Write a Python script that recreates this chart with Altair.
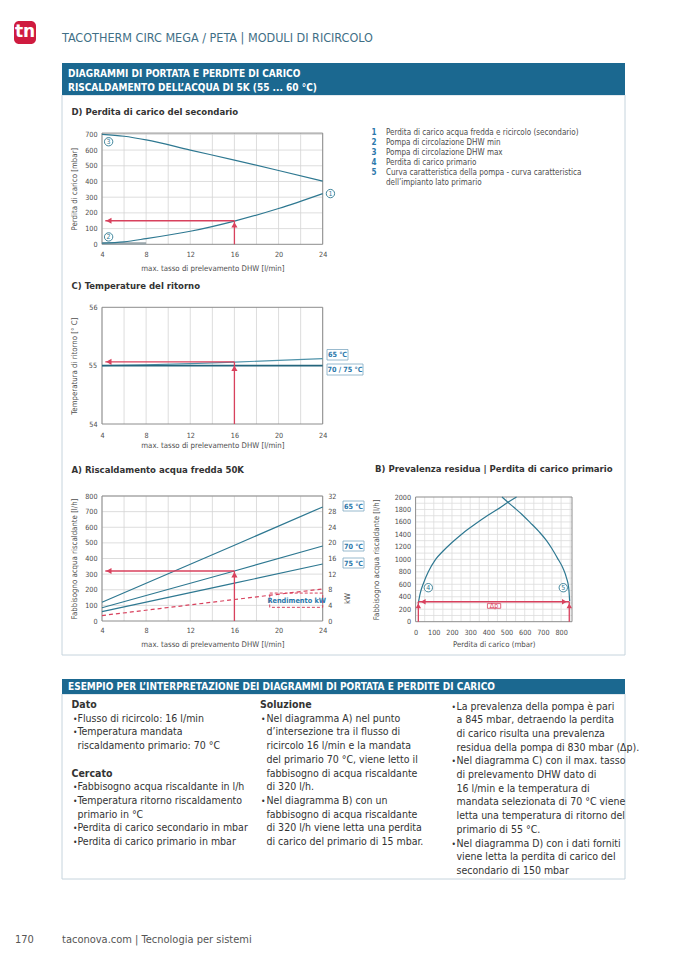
import altair as alt
import pandas as pd

W, H = 662, 943
FONT = "Liberation Sans Narrow, DejaVu Sans Condensed, sans-serif"
TEAL = "#2e7891"
TEAL_L = "#4f93aa"
TEAL_D = "#24657c"
RED = "#d8415d"
BAR = "#1b6890"
LBL = "#2b78ab"
TXT = "#4d4d4d"
DARK = "#333333"
GRID = "#d4d4d4"
FRAME = "#8c8c8c"
BOX = "#c6d4dd"


def P(v):
    return v - 8


# ------------------------------------------------------------------ texts
page_title = "TACOTHERM CIRC MEGA / PETA  |  MODULI DI RICIRCOLO"
logo_text = "tn"
bar_lines = ["DIAGRAMMI DI PORTATA E PERDITE DI CARICO",
             "RISCALDAMENTO DELL’ACQUA DI 5K (55 ... 60 °C)"]
legend_nums = ["1", "2", "3", "4", "5", ""]
legend_texts = ["Perdita di carico acqua fredda e ricircolo (secondario)",
                "Pompa di circolazione DHW min",
                "Pompa di circolazione DHW max",
                "Perdita di carico primario",
                "Curva caratteristica della pompa - curva caratteristica",
                "dell’impianto lato primario"]
title_D = "D) Perdita di carico del secondario"
title_C = "C) Temperature del ritorno"
title_A = "A) Riscaldamento acqua fredda 50K"
title_B = "B) Prevalenza residua  |  Perdita di carico primario"
xtitle_flow = "max. tasso di prelevamento DHW [l/min]"
ytitle_D = "Perdita di carico [mbar]"
ytitle_C = "Temperatura di ritorno [° C]"
ytitle_A = "Fabbisogno acqua riscaldante [l/h]"
ytitle_kw = "kW"
xtitle_B = "Perdita di carico (mbar)"
ytitle_B = "Fabbisogno acqua riscaldante [l/h]"
lab_C = ["65 °C", "70 / 75 °C"]
lab_A = ["65 °C", "70 °C", "75 °C"]
lab_kw = "Rendimento kW"
lab_dp = "Δp"
example_bar = "ESEMPIO PER L’INTERPRETAZIONE DEI DIAGRAMMI DI PORTATA E PERDITE DI CARICO"
col1_text = ["Dato", "Flusso di ricircolo: 16 l/min", "Temperatura mandata",
             "riscaldamento primario: 70 °C", "", "Cercato",
             "Fabbisogno acqua riscaldante in l/h", "Temperatura ritorno riscaldamento",
             "primario in °C", "Perdita di carico secondario in mbar",
             "Perdita di carico primario in mbar"]
col1_kind = ["h", "b", "b", "c", "e", "h", "b", "b", "c", "b", "b"]
col2_text = ["Soluzione", "Nel diagramma A) nel punto", "d’intersezione tra il flusso di",
             "ricircolo 16 l/min e la mandata", "del primario 70 °C, viene letto il",
             "fabbisogno di acqua riscaldante", "di 320 l/h.", "Nel diagramma B) con un",
             "fabbisogno di acqua riscaldante", "di 320 l/h viene letta una perdita",
             "di carico del primario di 15 mbar."]
col2_kind = ["h", "b", "c", "c", "c", "c", "c", "b", "c", "c", "c"]
col3_text = ["La prevalenza della pompa è pari", "a 845 mbar, detraendo la perdita",
             "di carico risulta una prevalenza", "residua della pompa di 830 mbar (Δp).",
             "Nel diagramma C) con il max. tasso", "di prelevamento DHW dato di",
             "16 l/min e la temperatura di", "mandata selezionata di 70 °C viene",
             "letta una temperatura di ritorno del", "primario di 55 °C.",
             "Nel diagramma D) con i dati forniti", "viene letta la perdita di carico del",
             "secondario di 150 mbar"]
col3_kind = ["b", "c", "c", "c", "b", "c", "c", "c", "c", "c", "b", "c", "c"]
footer_page = "170"
footer_text = "taconova.com  |  Tecnologia per sistemi"

# ------------------------------------------------------------------ data
flow_ticks = [4, 8, 12, 16, 20, 24]
flow_grid = [4, 6, 8, 10, 12, 14, 16, 18, 20, 22, 24]

# D) secondary pressure loss
d_y_ticks = [0, 100, 200, 300, 400, 500, 600, 700]
d_y_grid = [100, 200, 300, 400, 500, 600, 700]
d_flow = [4, 6, 8, 12, 16, 20, 24]
d_pump_max = [700, 688, 665, 600, 536, 470, 402]
d_loss = [8, 16, 36, 83, 148, 228, 323]
d_pump_min_flow = [4, 8]
d_pump_min = [5, 5]
d_read_flow, d_read_val = 16, 150

# C) return temperature
c_y_ticks = [54, 56]
c_mid_tick = 55
c_flow = [4, 8, 12, 16, 20, 24]
c_65 = [55.0, 55.015, 55.035, 55.06, 55.09, 55.12]
c_70_75 = [55.0, 55.0, 55.0, 55.0, 55.0, 55.0]
c_read_flow, c_read_val = 16, 55.065

# A) heating water demand
a_y_ticks = [0, 100, 200, 300, 400, 500, 600, 700, 800]
a_kw_ticks = [0, 4, 8, 12, 16, 20, 24, 28, 32]
a_flow = [4, 16, 24]
a_65 = [120, 485, 730]
a_70 = [85, 320, 480]
a_75 = [60, 242, 365]
a_kw = [1.4, 5.5, 8.2]
a_read_flow, a_read_val = 16, 320

# B) residual head / primary loss
b_x_ticks = [0, 100, 200, 300, 400, 500, 600, 700, 800]
b_y_ticks = [0, 200, 400, 600, 800, 1000, 1200, 1400, 1600, 1800, 2000]
b_x_grid = list(range(50, 860, 50))
b_y_grid = list(range(100, 2000, 100))
b4_dp = [15, 25, 45, 70, 110, 150, 200, 260, 330, 400, 470, 500, 555]
b4_q = [300, 450, 630, 800, 1000, 1130, 1270, 1420, 1570, 1710, 1840, 1900, 2000]
b5_dp = [475, 500, 540, 585, 630, 680, 720, 750, 780, 810, 830, 842, 847]
b5_q = [2000, 1935, 1835, 1720, 1590, 1440, 1300, 1170, 1020, 860, 700, 540, 330]
b_read_q = 320
b_dp_lo, b_dp_hi = 15, 845


# ------------------------------------------------------------------ helpers
def lin(domain, r0, r1):
    return alt.Scale(domain=domain, range=[P(r0), P(r1)], nice=False, zero=False)


def ax_common(fmt=None):
    d = dict(grid=False, ticks=False, domain=False, zindex=1, labelOverlap=False,
             tickCount=30,
             labelFont=FONT, labelFontSize=7.2, labelColor=TXT,
             titleFont=FONT, titleFontSize=7.8, titleFontWeight="normal", titleColor=TXT,
             titleBaseline="middle", titleAlign="center", format=fmt or "d")
    return d


def x_axis(values, title, px_l, px_r, px_b, label_pad, title_dy, fmt=None):
    return alt.Axis(orient="bottom", offset=P(px_b) - H, values=values, title=title,
                    labelFlush=False, labelPadding=label_pad,
                    titleX=(P(px_l) + P(px_r)) / 2, titleY=title_dy, **ax_common(fmt))


def y_axis(values, title, px_x, title_dx, title_y, orient="left", label_pad=5, fmt=None):
    off = -P(px_x) if orient == "left" else P(px_x) - W
    return alt.Axis(orient=orient, offset=off, values=values, title=title,
                    labelPadding=label_pad, titleX=title_dx, titleY=P(title_y),
                    titleAngle=270, **ax_common(fmt))


class Panel:
    def __init__(self, sx, sy, ax, ay):
        self.sx, self.sy, self.ax, self.ay = sx, sy, ax, ay
        self.layers = []

    def X(self):
        return alt.X("x:Q", scale=self.sx, axis=self.ax)

    def Y(self):
        return alt.Y("y:Q", scale=self.sy, axis=self.ay)

    def enc(self, df):
        e = {}
        if "x" in df:
            e["x"] = self.X()
        if "x2" in df:
            e["x2"] = "x2:Q"
        if "y" in df:
            e["y"] = self.Y()
        if "y2" in df:
            e["y2"] = "y2:Q"
        return e

    def grid_frame(self, gx, gy, x0, x1, y0, y1, grid_color=GRID):
        if gx:
            v = pd.DataFrame({"x": gx, "y": [y0] * len(gx), "y2": [y1] * len(gx)})
            self.layers.append(alt.Chart(v).mark_rule(color=grid_color, strokeWidth=0.8)
                               .encode(**self.enc(v)))
        if gy:
            h = pd.DataFrame({"y": gy, "x": [x0] * len(gy), "x2": [x1] * len(gy)})
            self.layers.append(alt.Chart(h).mark_rule(color=grid_color, strokeWidth=0.8)
                               .encode(**self.enc(h)))
        f = pd.DataFrame({"x": [x0], "x2": [x1], "y": [y0], "y2": [y1]})
        self.layers.append(alt.Chart(f).mark_rect(fillOpacity=0, stroke=FRAME, strokeWidth=1)
                           .encode(**self.enc(f)))

    def line(self, xs, ys, color=TEAL, width=1.2, dash=None, interp="monotone"):
        df = pd.DataFrame({"x": xs, "y": ys})
        mk = dict(color=color, strokeWidth=width, interpolate=interp)
        if dash:
            mk["strokeDash"] = dash
        self.layers.append(alt.Chart(df).mark_line(**mk).encode(x=self.X(), y=self.Y()))

    def rule(self, df, color=RED, width=1.3, dash=None):
        mk = dict(color=color, strokeWidth=width)
        if dash:
            mk["strokeDash"] = dash
        self.layers.append(alt.Chart(pd.DataFrame(df)).mark_rule(**mk)
                           .encode(**self.enc(pd.DataFrame(df))))

    def head(self, x, y, shape, size=38, color=RED):
        df = pd.DataFrame({"x": [x], "y": [y]})
        self.layers.append(alt.Chart(df).mark_point(shape=shape, filled=True, size=size,
                                                    color=color, opacity=1)
                           .encode(x=self.X(), y=self.Y()))

    def circ(self, x, y, label, size=70):
        df = pd.DataFrame({"x": [x], "y": [y], "t": [label]})
        self.layers.append(alt.Chart(df).mark_point(shape="circle", filled=True, size=size,
                                                    fill="white", stroke=TEAL, strokeWidth=0.9,
                                                    opacity=1)
                           .encode(x=self.X(), y=self.Y()))
        self.layers.append(alt.Chart(df).mark_text(font=FONT, fontSize=7, color=TEAL,
                                                   baseline="middle", align="center", dy=0.5)
                           .encode(x=self.X(), y=self.Y(), text="t:N"))

    def box(self, x0, x1, y0, y1, stroke=RED, dash=None, fill="white", fill_op=1.0, width=0.9):
        df = pd.DataFrame({"x": [x0], "x2": [x1], "y": [y0], "y2": [y1]})
        mk = dict(fill=fill, fillOpacity=fill_op, stroke=stroke, strokeWidth=width)
        if dash:
            mk["strokeDash"] = dash
        self.layers.append(alt.Chart(df).mark_rect(**mk).encode(**self.enc(df)))

    def text(self, x, y, label, size=8, color=LBL, weight="bold", align="center", dx=0):
        df = pd.DataFrame({"x": [x], "y": [y], "t": [label]})
        self.layers.append(alt.Chart(df).mark_text(font=FONT, fontSize=size, color=color,
                                                   fontWeight=weight, baseline="middle",
                                                   align=align, dx=dx)
                           .encode(x=self.X(), y=self.Y(), text="t:N"))

    def chart(self):
        return alt.layer(*self.layers)


ONE = pd.DataFrame({"k": [0]})


def px_text(label, x, y, size=8, color=TXT, weight="normal", align="left", font=FONT):
    return (alt.Chart(pd.DataFrame({"t": [label]}))
            .mark_text(font=font, fontSize=size, color=color, fontWeight=weight,
                       align=align, baseline="middle")
            .encode(x=alt.value(P(x)), y=alt.value(P(y)), text="t:N"))


def px_rect(x0, x1, y0, y1, fill="white", stroke=None, width=1, radius=0, fill_op=1.0):
    mk = dict(fill=fill, fillOpacity=fill_op, cornerRadius=radius)
    if stroke:
        mk["stroke"] = stroke
        mk["strokeWidth"] = width
    return (alt.Chart(ONE).mark_rect(**mk)
            .encode(x=alt.value(P(x0)), x2=alt.value(P(x1)),
                    y=alt.value(P(y0)), y2=alt.value(P(y1))))


def label_box(label, x0, x1, y0, y1):
    return [px_rect(x0, x1, y0, y1, fill="white", stroke="#7fa8c2", width=0.8),
            px_text(label, (x0 + x1) / 2, (y0 + y1) / 2 + 0.5, size=7.2, color=LBL,
                    weight="bold", align="center")]


def text_block(lines, kinds, x_head, x_bullet, x_text, y0, lh, size=10.5):
    df = pd.DataFrame({"t": lines, "k": kinds, "r": list(range(len(lines)))})
    base = alt.Chart(df).transform_calculate(py=f"{P(y0)} + datum.r * {lh}")
    yy = alt.Y("py:Q", scale=None, axis=None)
    heads = (base.transform_filter("datum.k == 'h'")
             .mark_text(font=FONT, fontSize=size, fontWeight="bold", color=DARK,
                        align="left", baseline="middle")
             .encode(x=alt.value(P(x_head)), y=yy, text="t:N"))
    body = (base.transform_filter("datum.k == 'b' || datum.k == 'c'")
            .mark_text(font=FONT, fontSize=size, color=DARK, align="left", baseline="middle")
            .encode(x=alt.value(P(x_text)), y=yy, text="t:N"))
    bullets = (base.transform_filter("datum.k == 'b'")
               .mark_text(font=FONT, fontSize=size * 0.8, color=DARK, align="left",
                          baseline="middle")
               .encode(x=alt.value(P(x_bullet)), y=yy, text=alt.value("•")))
    return [heads, body, bullets]


# ------------------------------------------------------------------ geometry (page px)
FX = (102, 322.7)
D_Y = (244.3, 133.1)
C_Y = (424, 307.3)
A_Y = (621, 496)
B_X = (415.6, 572)
B_Y = (621.7, 497)

layers = []

# page furniture
layers.append(px_rect(62, 625, 95, 655, fill="white", fill_op=0, stroke=BOX, width=1))
layers.append(px_rect(62, 625, 694, 879, fill="white", fill_op=0, stroke=BOX, width=1))
layers.append(px_rect(14, 36, 21, 44, fill="#cf1b3f", radius=5))
layers.append(px_text(logo_text, 25, 31.5, size=17, color="white", weight="bold",
                      align="center", font="DejaVu Sans"))
layers.append(px_text(page_title, 62, 38, size=12.5, color="#3f6f86"))
layers.append(px_rect(62, 625, 63, 95, fill=BAR))
layers.append(px_text(bar_lines[0], 68, 73.5, size=10, color="white", weight="bold"))
layers.append(px_text(bar_lines[1], 68, 87.5, size=10, color="white", weight="bold"))
layers.append(px_rect(62, 625, 679, 694, fill=BAR))
layers.append(px_text(example_bar, 68, 687, size=10, color="white", weight="bold"))
layers.append(px_text(footer_page, 15, 940, size=11, color="#555"))
layers.append(px_text(footer_text, 62, 940, size=11, color="#555"))

# chart titles
layers.append(px_text(title_D, 71.5, 111.5, size=9.5, color=DARK, weight="bold"))
layers.append(px_text(title_C, 71.5, 286, size=9.5, color=DARK, weight="bold"))
layers.append(px_text(title_A, 71.5, 469.5, size=9.5, color=DARK, weight="bold"))
layers.append(px_text(title_B, 375, 469, size=9.5, color=DARK, weight="bold"))

# legend of D
leg = pd.DataFrame({"n": legend_nums, "t": legend_texts, "r": list(range(len(legend_nums)))})
leg_base = alt.Chart(leg).transform_calculate(py=f"{P(133.3)} + datum.r * 9.9")
leg_y = alt.Y("py:Q", scale=None, axis=None)
layers.append(leg_base.mark_text(font=FONT, fontSize=8, color=LBL, fontWeight="bold",
                                 align="center", baseline="middle")
              .encode(x=alt.value(P(374)), y=leg_y, text="n:N"))
layers.append(leg_base.mark_text(font=FONT, fontSize=8, color=TXT, align="left",
                                 baseline="middle")
              .encode(x=alt.value(P(386)), y=leg_y, text="t:N"))

# ---- D
pD = Panel(lin([4, 24], *FX), lin([0, 708], *D_Y),
           x_axis(flow_ticks, xtitle_flow, *FX, D_Y[0], 6, 24),
           y_axis(d_y_ticks, ytitle_D, FX[0], -28, (D_Y[0] + D_Y[1]) / 2))
pD.grid_frame(flow_grid, d_y_grid, 4, 24, 0, 708)
pD.line(d_pump_min_flow, d_pump_min, color="#9aa6ab", width=2.5, interp="linear")
pD.line(d_flow, d_pump_max)
pD.line(d_flow, d_loss)
pD.rule({"x": [d_read_flow], "y": [0], "y2": [d_read_val]})
pD.rule({"y": [d_read_val], "x": [4.3], "x2": [d_read_flow]})
pD.head(d_read_flow, 124, "triangle-up")
pD.head(4.62, d_read_val, "triangle-left")
pD.circ(4.6, 653, "3")
pD.circ(4.6, 47, "2")
pD.circ(24.7, 323, "1")
layers.append(pD.chart())

# ---- C
pC = Panel(lin([4, 24], *FX), lin([54, 56], *C_Y),
           x_axis(flow_ticks, xtitle_flow, *FX, C_Y[0], 7, 21),
           y_axis(c_y_ticks, ytitle_C, FX[0], -28, (C_Y[0] + C_Y[1]) / 2))
pC.grid_frame(flow_grid, [], 4, 24, 54, 56)
pC.line(c_flow, c_65, color=TEAL_L, width=1.1, interp="linear")
pC.line(c_flow, c_70_75, color=TEAL_D, width=1.6, interp="linear")
pC.rule({"x": [c_read_flow], "y": [54], "y2": [c_read_val]})
pC.rule({"y": [c_read_val], "x": [4.3], "x2": [c_read_flow]})
pC.head(c_read_flow, 54.955, "triangle-up")
pC.head(4.62, c_read_val, "triangle-left")
pC.text(4, c_mid_tick, str(c_mid_tick), size=7.2, color=TXT, weight="normal",
        align="right", dx=-5)
layers.append(pC.chart())
layers += label_box(lab_C[0], 327, 348, 349.5, 360)
layers += label_box(lab_C[1], 327, 363, 364, 375)

# ---- A
pA = Panel(lin([4, 24], *FX), lin([0, 800], *A_Y),
           x_axis(flow_ticks, xtitle_flow, *FX, A_Y[0], 5, 23.3),
           y_axis(a_y_ticks, ytitle_A, FX[0], -28, (A_Y[0] + A_Y[1]) / 2))
pA.grid_frame(flow_grid, a_y_ticks[1:], 4, 24, 0, 800)
pA.line(a_flow, a_65, interp="linear")
pA.line(a_flow, a_70, interp="linear")
pA.line(a_flow, a_75, interp="linear")
pA.rule({"x": [a_read_flow], "y": [0], "y2": [a_read_val]})
pA.rule({"y": [a_read_val], "x": [4.3], "x2": [a_read_flow]})
pA.head(a_read_flow, 296, "triangle-up")
pA.head(4.62, a_read_val, "triangle-left")
layers.append(pA.chart())

pK = Panel(lin([4, 24], *FX), lin([0, 32], *A_Y), None,
           y_axis(a_kw_ticks, ytitle_kw, FX[1], 25, 598, orient="right", label_pad=5))
pK.box(19.2, 24, 3.5, 7.15, stroke=RED, dash=[3, 2], fill="white", fill_op=0.0, width=1)
pK.line(a_flow, a_kw, color=RED, width=1.2, dash=[4, 3], interp="linear")
pK.text(21.65, 5.2, lab_kw, size=7.3, color=LBL)
layers.append(pK.chart())
layers += label_box(lab_A[0], 343, 364, 501, 511)
layers += label_box(lab_A[1], 343, 364, 541, 551)
layers += label_box(lab_A[2], 343, 364, 558, 568)

# ---- B
pB = Panel(lin([0, 860], *B_X), lin([0, 2000], *B_Y),
           x_axis(b_x_ticks, xtitle_B, *B_X, B_Y[0], 7, 22.3),
           y_axis(b_y_ticks, ytitle_B, B_X[0], -39, (B_Y[0] + B_Y[1]) / 2))
pB.grid_frame(b_x_grid, b_y_grid, 0, 860, 0, 2000, grid_color="#dcdcdc")
pB.line(b4_dp, b4_q)
pB.line(b5_dp, b5_q)
pB.rule({"x": [b_dp_lo, b_dp_hi], "y": [0, 0], "y2": [b_read_q, b_read_q]})
pB.rule({"y": [b_read_q], "x": [b_dp_lo], "x2": [b_dp_hi]})
pB.head(b_dp_lo, 255, "triangle-up", size=30)
pB.head(b_dp_hi, 255, "triangle-up", size=30)
pB.head(b_dp_lo + 27, b_read_q, "triangle-left", size=30)
pB.head(b_dp_hi - 27, b_read_q, "triangle-right", size=30)
pB.box(395, 468, 215, 290, stroke=RED, fill="white", width=0.8)
pB.text(431, 252, lab_dp, size=7, color=RED, weight="normal")
pB.circ(70, 545, "4")
pB.circ(812, 545, "5")
layers.append(pB.chart())

# ---- example texts
layers += text_block(col1_text, col1_kind, 71.5, 73, 77.5, 705, 13.7)
layers += text_block(col2_text, col2_kind, 260, 261, 266.5, 705, 13.7)
layers += text_block(col3_text, col3_kind, 451.5, 451.5, 456.5, 706.5, 13.7)

chart = (alt.layer(*layers)
         .resolve_scale(x="independent", y="independent")
         .properties(width=W, height=H, padding=0, background="white")
         .configure_view(strokeWidth=0))

chart.save("out.html", embed_options={"renderer": "svg", "actions": False})
